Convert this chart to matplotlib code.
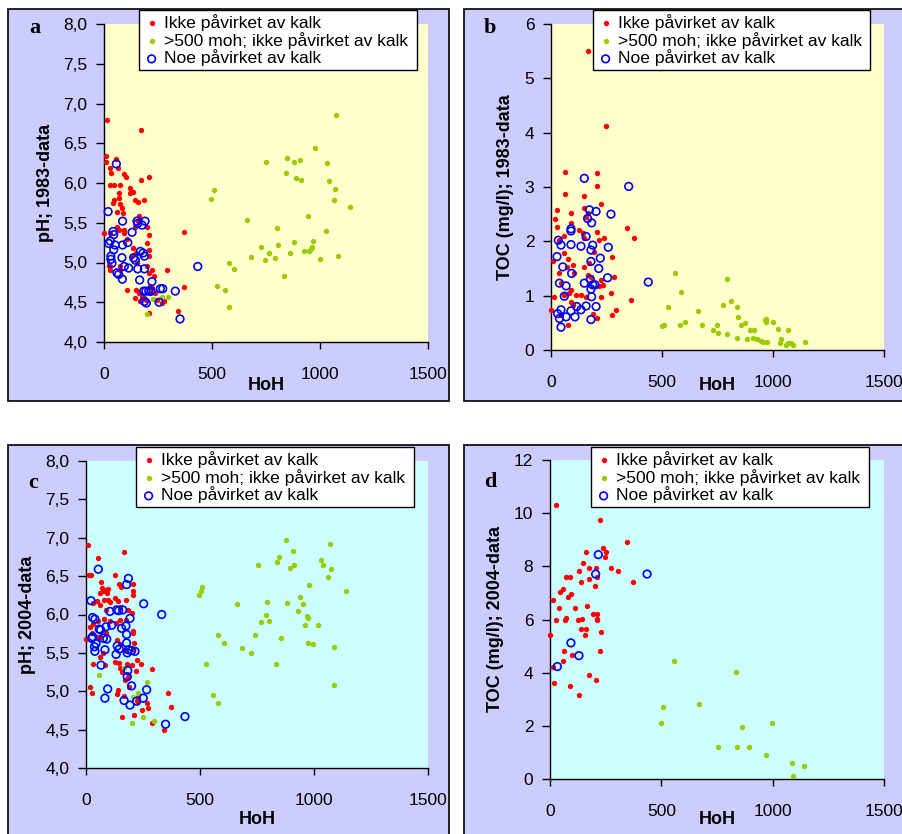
import numpy as np
import matplotlib
matplotlib.use("Agg")
import matplotlib.pyplot as plt
from matplotlib.patches import Rectangle
from matplotlib.ticker import FuncFormatter, MultipleLocator

plt.rcParams["font.family"] = ["Liberation Sans", "DejaVu Sans"]

LABELS = ["Ikke påvirket av kalk", ">500 moh; ikke påvirket av kalk", "Noe påvirket av kalk"]

# ---------------- a: pH 1983 ----------------
a_red_x = [14, 11, 11, 173, 57, 29, 34, 63, 94, 102, 210, 173, 45, 73, 29, 122, 134, 119, 68, 71,
           184, 145, 156, 45, 42, 76, 83, 88, 60, 0, 26, 60, 68, 91, 94, 160, 168, 156, 145, 199,
           207, 199, 207, 210, 106, 134, 150, 130, 153, 26, 29, 22, 73, 76, 199, 207, 224, 230, 292, 108,
           147, 160, 176, 145, 168, 215, 238, 245, 276, 269, 369, 369, 343, 210, 211, 222, 187, 196]
a_red_y = [6.79, 6.34, 6.27, 6.67, 6.30, 6.19, 6.12, 6.19, 6.11, 6.08, 6.08, 6.04, 5.98, 5.98, 5.97, 5.94, 5.89, 5.88, 5.87, 5.81,
           5.78, 5.79, 5.76, 5.79, 5.75, 5.73, 5.68, 5.62, 5.63, 5.37, 5.37, 5.45, 5.41, 5.37, 5.41, 5.58, 5.54, 5.52, 5.45, 5.45,
           5.35, 5.24, 5.16, 5.08, 5.29, 5.18, 5.12, 5.08, 4.99, 4.95, 4.91, 4.96, 4.95, 4.91, 4.95, 4.87, 4.91, 4.83, 4.91, 4.65,
           4.66, 4.62, 4.57, 4.55, 4.51, 4.62, 4.62, 4.53, 4.51, 4.49, 5.38, 4.69, 4.39, 4.37, 4.70, 4.68, 4.55, 4.53]
a_green_x = [199, 227, 268, 296, 495, 508, 522, 562, 579, 600, 579, 664, 681, 728, 764, 750, 747, 792, 799, 807,
             835, 843, 847, 863, 880, 881, 890, 906, 913, 924, 944, 949, 958, 962, 966, 975, 1001, 1026, 1032, 1040,
             1065, 1071, 1072, 1083, 1140]
a_green_y = [4.35, 4.54, 4.57, 4.57, 5.80, 5.91, 4.70, 4.66, 5.00, 4.92, 4.44, 5.54, 5.07, 5.19, 5.12, 6.27, 5.03, 5.06, 5.43, 5.22,
             4.83, 6.13, 6.32, 5.12, 5.26, 6.27, 6.06, 6.29, 6.04, 5.15, 5.59, 5.15, 5.17, 5.20, 5.27, 6.44, 5.04, 5.40, 6.25, 6.02,
             5.78, 5.92, 6.86, 5.08, 5.70]
a_blue_x = [57, 19, 86, 153, 156, 190, 176, 42, 45, 130, 22, 29, 51, 86, 110, 45, 32, 32, 37, 83,
            94, 114, 85, 60, 68, 137, 145, 168, 181, 187, 156, 187, 165, 184, 194, 207, 218, 222, 187, 196,
            255, 261, 272, 330, 352, 434]
a_blue_y = [6.24, 5.64, 5.52, 5.52, 5.49, 5.52, 5.47, 5.39, 5.35, 5.38, 5.24, 5.27, 5.22, 5.22, 5.25, 5.16, 5.08, 5.04, 4.99, 5.06,
            4.95, 4.93, 4.79, 4.87, 4.85, 5.06, 5.03, 5.14, 5.12, 5.08, 4.92, 4.92, 4.78, 4.64, 4.64, 4.64, 4.64, 4.76, 4.51, 4.49,
            4.50, 4.67, 4.67, 4.64, 4.29, 4.95]

# ---------------- b: TOC 1983 ----------------
b_red_x = [168, 249, 63, 205, 207, 63, 150, 27, 90, 20, 225, 150, 165, 158, 27, 90, 342, 372, 60, 38,
           128, 143, 150, 207, 218, 195, 240, 8, 60, 78, 72, 98, 105, 273, 38, 45, 150, 173, 165, 180,
           225, 218, 233, 285, 15, 60, 83, 90, 113, 135, 158, 225, 270, 90, 98, 0, 45, 75, 293, 360,
           276, 206, 188]
b_red_y = [5.50, 4.13, 3.28, 3.26, 3.01, 2.88, 2.83, 2.58, 2.53, 2.42, 2.68, 2.61, 2.52, 2.45, 2.27, 2.34, 2.24, 2.07, 2.09, 2.02,
           2.21, 2.15, 2.07, 2.18, 2.02, 1.81, 2.07, 1.63, 1.78, 1.67, 1.53, 1.56, 1.41, 1.71, 1.41, 1.23, 1.53, 1.60, 1.38, 1.35,
           1.29, 1.17, 1.20, 1.35, 0.98, 1.01, 1.04, 1.10, 1.01, 1.01, 0.98, 0.98, 1.04, 0.89, 0.83, 0.74, 0.64, 0.46, 0.74, 0.92,
           0.64, 0.58, 0.67]
b_green_x = [498, 510, 525, 560, 579, 585, 603, 664, 678, 728, 746, 750, 773, 795, 795, 810, 837, 843, 837, 858,
             874, 882, 896, 915, 908, 927, 945, 953, 963, 968, 969, 975, 999, 1024, 1035, 1032, 1068, 1060, 1068, 1080,
             1088, 1143]
b_green_y = [0.44, 0.46, 0.80, 1.41, 0.46, 1.07, 0.51, 0.72, 0.46, 0.37, 0.46, 0.31, 0.83, 1.30, 0.29, 0.91, 0.80, 0.61, 0.23, 0.46,
             0.50, 0.21, 0.37, 0.36, 0.23, 0.20, 0.17, 0.14, 0.55, 0.51, 0.57, 0.15, 0.51, 0.38, 0.21, 0.12, 0.37, 0.09, 0.12, 0.12,
             0.10, 0.14]
b_blue_x = [150, 350, 173, 203, 270, 165, 183, 90, 90, 33, 45, 90, 135, 158, 188, 180, 27, 53, 93, 258,
            222, 215, 180, 38, 68, 60, 150, 177, 188, 198, 180, 183, 255, 438, 30, 38, 45, 45, 68, 90,
            108, 116, 135, 158, 203, 180]
b_blue_y = [3.16, 3.01, 2.58, 2.55, 2.50, 2.42, 2.34, 2.23, 2.19, 2.02, 1.93, 1.94, 1.91, 2.09, 1.93, 1.84, 1.72, 1.53, 1.41, 1.89,
            1.69, 1.50, 1.63, 1.23, 1.18, 0.99, 1.23, 1.30, 1.20, 1.20, 1.12, 0.98, 1.33, 1.25, 0.67, 0.58, 0.74, 0.42, 0.61, 0.72,
            0.61, 0.80, 0.74, 0.81, 0.80, 0.56]

# ---------------- c: pH 2004 ----------------
c_red_x = [10, 168, 15, 20, 54, 127, 66, 69, 76, 61, 88, 98, 94, 145, 152, 205, 205, 205, 32, 47,
           61, 79, 88, 98, 105, 127, 142, 149, 175, 183, 200, 18, 32, 54, 79, 105, 132, 149, 175, 0,
           25, 47, 61, 88, 137, 149, 171, 205, 208, 211, 208, 61, 73, 29, 83, 127, 146, 149, 178, 200,
           222, 241, 156, 186, 171, 190, 142, 135, 167, 18, 25, 289, 219, 361, 374, 230, 222, 266, 273, 244,
           211, 156, 288, 344]
c_red_y = [6.90, 6.81, 6.51, 6.51, 6.74, 6.52, 6.42, 6.34, 6.30, 6.28, 6.32, 6.33, 6.28, 6.40, 6.36, 6.40, 6.30, 6.26, 6.15, 6.17,
           6.13, 6.19, 6.06, 6.19, 6.16, 6.21, 6.17, 6.10, 6.19, 6.06, 6.02, 5.84, 5.88, 5.92, 5.94, 5.91, 5.89, 5.93, 5.93, 5.68,
           5.76, 5.71, 5.71, 5.76, 5.67, 5.61, 5.54, 5.79, 5.76, 5.63, 5.55, 5.44, 5.50, 5.36, 5.34, 5.38, 5.37, 5.30, 5.35, 5.34,
           5.41, 5.35, 5.25, 5.19, 5.15, 5.06, 5.02, 4.97, 4.94, 5.05, 4.98, 5.29, 5.27, 4.98, 4.80, 4.93, 4.87, 4.85, 4.78, 4.76,
           4.69, 4.66, 4.59, 4.50]
c_green_x = [58, 167, 266, 208, 230, 249, 200, 300, 496, 504, 507, 579, 605, 526, 556, 580, 664, 683, 724, 743,
             753, 768, 788, 795, 804, 832, 839, 846, 857, 876, 880, 893, 906, 912, 928, 940, 953, 959, 968, 972,
             977, 972, 997, 1019, 1032, 1038, 1061, 1069, 1075, 1086, 1086, 1140]
c_green_y = [5.21, 5.30, 5.12, 4.93, 4.98, 4.66, 4.59, 4.61, 6.26, 6.31, 6.36, 5.73, 5.63, 5.36, 4.95, 4.85, 6.14, 5.57, 5.50, 5.73,
             6.65, 5.90, 6.00, 6.16, 5.91, 5.36, 6.69, 6.75, 5.70, 6.97, 6.15, 6.61, 6.83, 6.65, 6.04, 6.23, 6.14, 5.86, 5.98, 5.95,
             6.39, 5.63, 5.61, 5.86, 6.71, 6.65, 6.49, 6.92, 6.59, 5.58, 5.08, 6.31]
c_blue_x = [54, 186, 178, 22, 253, 332, 29, 39, 193, 105, 135, 143, 161, 88, 113, 175, 58, 64, 29, 25,
            76, 91, 156, 178, 44, 37, 39, 83, 137, 146, 178, 186, 200, 215, 181, 132, 66, 183, 181, 200,
            95, 83, 167, 193, 222, 266, 251, 349, 434]
c_blue_y = [6.59, 6.47, 6.39, 6.18, 6.14, 6.00, 5.96, 5.94, 5.95, 6.04, 6.06, 6.05, 6.06, 5.84, 5.86, 5.85, 5.81, 5.80, 5.71, 5.69,
            5.69, 5.68, 5.82, 5.74, 5.62, 5.58, 5.52, 5.54, 5.59, 5.55, 5.63, 5.54, 5.53, 5.52, 5.50, 5.48, 5.34, 5.27, 5.19, 5.07,
            5.03, 4.91, 4.88, 4.82, 4.87, 5.02, 4.91, 4.57, 4.67]

# ---------------- d: TOC 2004 ----------------
d_red_x = [25, 225, 347, 240, 252, 245, 162, 150, 205, 174, 275, 305, 132, 212, 73, 88, 174, 137, 373, 204,
           57, 43, 93, 82, 13, 168, 39, 112, 193, 212, 73, 66, 25, 126, 145, 212, 213, 141, 162, 230,
           156, 0, 63, 225, 100, 57, 13, 174, 205, 19, 88, 132]
d_red_y = [10.31, 9.74, 8.90, 8.70, 8.55, 8.35, 8.55, 8.13, 7.93, 7.93, 7.93, 7.82, 7.82, 7.61, 7.61, 7.61, 7.51, 7.40, 7.40, 7.25,
           7.15, 7.05, 6.95, 6.85, 6.73, 6.52, 6.42, 6.42, 6.22, 6.22, 6.05, 5.97, 5.97, 5.97, 6.02, 5.98, 6.02, 5.64, 5.64, 5.54,
           5.43, 5.43, 4.82, 4.82, 4.65, 4.44, 4.23, 3.92, 3.71, 3.61, 3.51, 3.15]
d_green_x = [558, 835, 509, 668, 497, 997, 861, 756, 841, 892, 972, 1088, 1139, 1090]
d_green_y = [4.44, 4.03, 2.72, 2.83, 2.11, 2.11, 1.94, 1.22, 1.22, 1.22, 0.90, 0.59, 0.49, 0.13]
d_blue_x = [217, 205, 436, 94, 130, 33]
d_blue_y = [8.44, 7.71, 7.71, 5.12, 4.64, 4.23]

W, H = 902, 834
fig = plt.figure(figsize=(W / 100, H / 100), dpi=100)
fig.patch.set_facecolor("white")


def px_box(x0, y0, x1, y1):
    # pixel box (top-left origin) -> figure fraction [left, bottom, width, height]
    return [x0 / W, 1 - y1 / H, (x1 - x0) / W, (y1 - y0) / H]


def comma_fmt(v, pos):
    return f"{v:.1f}".replace(".", ",")


def panel(frame, axbox, legbox, bg, letter, letter_xy, ylabel, ylim, ystep, decimals,
          red, green, blue, ylab_x, xlab_y):
    l, b, w, h = px_box(*frame)
    fig.add_artist(Rectangle((l, b), w, h, transform=fig.transFigure, facecolor="#CCCCFF",
                             edgecolor="black", lw=1.2, zorder=0))
    ax = fig.add_axes(px_box(*axbox))
    ax.set_facecolor(bg)
    ax.scatter(red[0], red[1], s=15, color="#FF0000", lw=0, clip_on=False, zorder=3, label=LABELS[0])
    ax.scatter(green[0], green[1], s=15, color="#99CC00", lw=0, clip_on=False, zorder=3, label=LABELS[1])
    ax.scatter(blue[0], blue[1], s=30, facecolors="none", edgecolors="#0000FF", lw=1.2,
               clip_on=False, zorder=4, label=LABELS[2])
    ax.set_xlim(0, 1500)
    ax.set_ylim(*ylim)
    ax.xaxis.set_major_locator(MultipleLocator(500))
    ax.yaxis.set_major_locator(MultipleLocator(ystep))
    if decimals:
        ax.yaxis.set_major_formatter(FuncFormatter(comma_fmt))
    for s in ["top", "right"]:
        ax.spines[s].set_visible(False)
    for s in ["left", "bottom"]:
        ax.spines[s].set_linewidth(1.0)
    ax.tick_params(axis="y", direction="out", length=6, width=1, labelsize=12.5, pad=6)
    ax.tick_params(axis="x", direction="out", length=5, width=1, labelsize=12.5, pad=13)

    ax.set_xlabel("HoH", fontsize=13, fontweight="bold", va="center")
    ax.xaxis.set_label_coords(0.5, -(xlab_y - axbox[3]) / (axbox[3] - axbox[1]))
    ax.set_ylabel(ylabel, fontsize=13, fontweight="bold", va="center")
    ax.yaxis.set_label_coords((ylab_x - axbox[0]) / (axbox[2] - axbox[0]), 0.5)

    fig.text(letter_xy[0] / W, 1 - letter_xy[1] / H, letter, family="Liberation Serif",
             fontweight="bold", fontsize=16, ha="center", va="center")

    lb = px_box(*legbox)
    leg = ax.legend(loc="upper left", bbox_to_anchor=(lb[0], lb[1] + lb[3], lb[2], 0),
                    bbox_transform=fig.transFigure, mode="expand", borderaxespad=0,
                    fontsize=12.6, frameon=True, fancybox=False, framealpha=1, edgecolor="black",
                    borderpad=0.22, handlelength=1.0, handletextpad=0.2, labelspacing=0.05,
                    scatterpoints=1)
    leg.get_frame().set_linewidth(1.0)
    leg.set_zorder(10)
    return ax


panel((8, 9, 449, 401), (104, 24, 428, 342), (139, 10, 417, 73), "#FFFFCC", "a", (35, 28),
      "pH; 1983-data", (4, 8), 0.5, True,
      (a_red_x, a_red_y), (a_green_x, a_green_y), (a_blue_x, a_blue_y), 46, 385)
panel((464, 9, 910, 401), (551, 24, 884, 350), (593, 10, 870, 73), "#FFFFCC", "b", (490, 28),
      "TOC (mg/l); 1983-data", (0, 6), 1, False,
      (b_red_x, b_red_y), (b_green_x, b_green_y), (b_blue_x, b_blue_y), 506, 385)
panel((8, 445, 449, 845), (86, 461, 428, 768), (136, 447, 414, 510), "#CCFFFF", "c", (33, 483),
      "pH; 2004-data", (4, 8), 0.5, True,
      (c_red_x, c_red_y), (c_green_x, c_green_y), (c_blue_x, c_blue_y), 28, 820)
panel((464, 445, 910, 845), (550, 460, 884, 779), (591, 447, 869, 509), "#CCFFFF", "d", (490, 482),
      "TOC (mg/l); 2004-data", (0, 12), 2, False,
      (d_red_x, d_red_y), (d_green_x, d_green_y), (d_blue_x, d_blue_y), 496, 819)

fig.savefig("out.png", dpi=100)
